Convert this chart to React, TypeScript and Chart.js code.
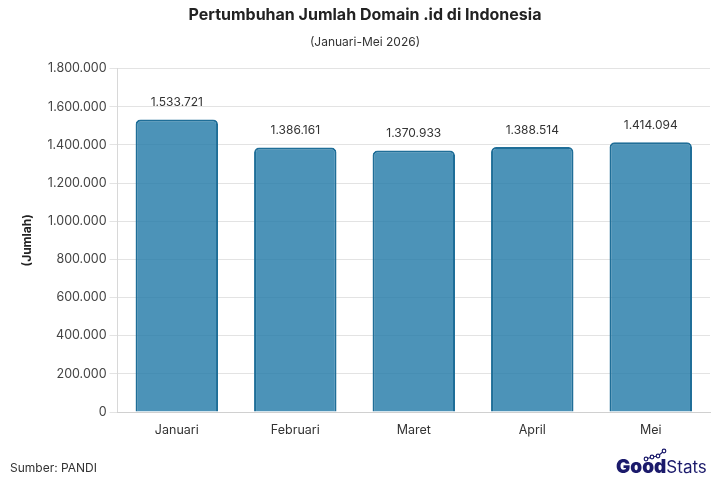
import React, { useEffect, useRef } from "react";
import { Chart, registerables } from "chart.js";

Chart.register(...registerables);

const categories = ["Januari", "Februari", "Maret", "April", "Mei"];
const domainCounts = [1533721, 1386161, 1370933, 1388514, 1414094];
const titleText = "Pertumbuhan Jumlah Domain .id di Indonesia";
const subtitleText = "(Januari-Mei 2026)";
const yAxisTitle = "(Jumlah)";
const sourceText = "Sumber: PANDI";

const FONT = "Inter, 'Open Sans', sans-serif";

const fmt = (v: number) => String(Math.round(v)).replace(/\B(?=(\d{3})+(?!\d))/g, ".");

const labelPlugin = {
  id: "valueLabels",
  afterDatasetsDraw(chart: any) {
    const ctx = chart.ctx;
    const meta = chart.getDatasetMeta(0);
    ctx.save();
    ctx.font = `12px ${FONT}`;
    ctx.fillStyle = "#333";
    ctx.textAlign = "center";
    ctx.textBaseline = "middle";
    meta.data.forEach((bar: any, i: number) => {
      ctx.fillText(fmt(domainCounts[i]), bar.x, bar.y - 17);
    });
    ctx.restore();
  },
};

const footerPlugin = {
  id: "footerStuff",
  afterDraw(chart: any) {
    const ctx = chart.ctx;
    ctx.save();
    ctx.font = `12px ${FONT}`;
    ctx.fillStyle = "#333";
    ctx.textAlign = "left";
    ctx.textBaseline = "middle";
    ctx.fillText(sourceText, 10, 468);

    ctx.textBaseline = "alphabetic";
    ctx.font = `900 19px ${FONT}`;
    ctx.fillStyle = "#1b1a6b";
    ctx.fillText("Good", 616, 473);
    const w = ctx.measureText("Good").width;
    ctx.font = `400 17px ${FONT}`;
    ctx.fillText("Stats", 616 + w, 473);
    const pts = [
      [646, 459],
      [652, 457],
      [658, 456],
      [664, 451],
    ];
    ctx.strokeStyle = "#1b1a6b";
    ctx.lineWidth = 1.2;
    ctx.beginPath();
    pts.forEach((p, i) => (i ? ctx.lineTo(p[0], p[1]) : ctx.moveTo(p[0], p[1])));
    ctx.stroke();
    ctx.fillStyle = "#fff";
    pts.forEach((p) => {
      ctx.beginPath();
      ctx.arc(p[0], p[1], 1.8, 0, Math.PI * 2);
      ctx.fill();
      ctx.stroke();
    });
    ctx.restore();
  },
};

export default function App() {
  const ref = useRef<HTMLCanvasElement>(null);
  useEffect(() => {
    document.body.style.margin = "0";
    const chart = new Chart(ref.current!, {
      type: "bar",
      data: {
        labels: categories,
        datasets: [
          {
            data: domainCounts,
            backgroundColor: "rgba(31,120,166,0.8)",
            borderColor: "#1f6e98",
            borderWidth: 2,
            borderRadius: 5,
            barPercentage: 0.87,
            categoryPercentage: 0.8,
          },
        ],
      },
      options: {
        animation: false,
        responsive: false,
        layout: { padding: { left: 20, right: 10, top: 0, bottom: 39 } },
        plugins: {
          legend: { display: false },
          tooltip: { enabled: false },
          title: {
            display: true,
            text: titleText,
            color: "#222",
            font: { family: FONT, size: 16, weight: "bold" },
            padding: { top: 6, bottom: 10 },
          },
          subtitle: {
            display: true,
            text: subtitleText,
            color: "#333",
            font: { family: FONT, size: 12 },
            padding: { top: 0, bottom: 19 },
          },
        },
        scales: {
          y: {
            min: 0,
            max: 1800000,
            ticks: {
              stepSize: 200000,
              color: "#444",
              font: { family: FONT, size: 12.5 },
              callback: (v: any) => fmt(Number(v)),
            },
            grid: { color: "#e3e3e3", tickLength: 8 },
            border: { color: "#d8d8d8" },
            title: {
              display: true,
              text: yAxisTitle,
              color: "#222",
              font: { family: FONT, size: 12, weight: "bold" },
              padding: { top: 0, bottom: 10 },
            },
          },
          x: {
            ticks: { color: "#333", font: { family: FONT, size: 12.5 }, padding: 3 },
            grid: { display: false },
            border: { color: "#d0d0d0" },
          },
        },
      },
      plugins: [labelPlugin, footerPlugin],
    });
    return () => chart.destroy();
  }, []);
  return (
    <div style={{ position: "absolute", left: 0, top: 0, width: 720, height: 480 }}>
      <canvas ref={ref} width={720} height={480} style={{ width: 720, height: 480 }} />
    </div>
  );
}
